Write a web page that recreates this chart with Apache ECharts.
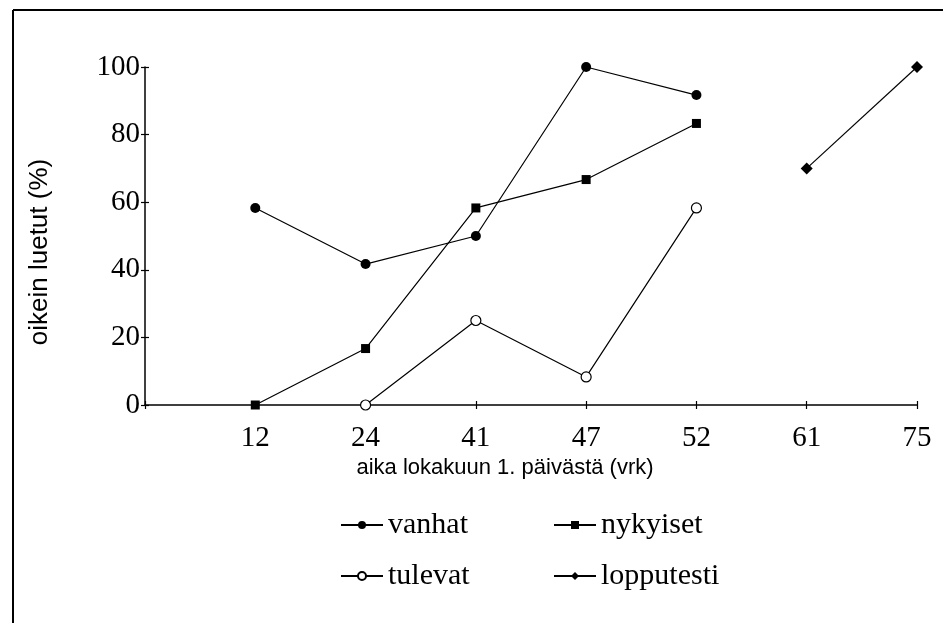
<!DOCTYPE html>
<html><head><meta charset="utf-8">
<script src="https://cdn.jsdelivr.net/npm/echarts@6/dist/echarts.min.js"></script>
<style>html,body{margin:0;padding:0;background:#fff}#c{width:943px;height:623px}</style>
</head><body><div id="c"></div>
<script>
var categories = ['', '12', '24', '41', '47', '52', '61', '75'];
var vanhat     = [null, 58.3, 41.7, 50.0, 100.0, 91.7, null, null];
var nykyiset   = [null, 0.0, 16.7, 58.3, 66.7, 83.3, null, null];
var tulevat    = [null, null, 0.0, 25.0, 8.3, 58.3, null, null];
var lopputesti = [null, null, null, null, null, null, 70.0, 100.0];
var yTicks = [0, 20, 40, 60, 80, 100];
var xName = 'aika lokakuun 1. päivästä (vrk)';
var yName = 'oikein luetut (%)';

var serif = '"Liberation Serif", "Times New Roman", serif';
var sans = '"Liberation Sans", Arial, sans-serif';
var chart = echarts.init(document.getElementById('c'), null, {renderer: 'canvas'});
function ser(name, data, symbol, size, fill) {
  return {
    name: name, type: 'line', data: data, symbol: symbol, symbolSize: size,
    showSymbol: true, connectNulls: false,
    lineStyle: {color: '#000', width: 1.2},
    itemStyle: {color: fill, borderColor: '#000', borderWidth: fill === '#fff' ? 1.2 : 0},
    emphasis: {disabled: true}, z: 3
  };
}
var legendStyle = {
  orient: 'vertical', itemWidth: 42, itemHeight: 10, itemGap: 21,
  textStyle: {fontFamily: serif, fontSize: 30, color: '#000'}, selectedMode: false
};
chart.setOption({
  animation: false,
  grid: {left: 145, right: 26, top: 67, bottom: 218},
  xAxis: [{
    type: 'category', data: categories, boundaryGap: false,
    axisLine: {lineStyle: {color: '#000', width: 1.5}},
    axisTick: {show: true, length: 4, lineStyle: {color: '#000', width: 1.2}},
    axisLabel: {fontFamily: serif, fontSize: 29, color: '#000', margin: 19},
    splitLine: {show: false}
  }, {
    type: 'category', data: categories, boundaryGap: false, position: 'bottom',
    axisLine: {show: false},
    axisTick: {show: true, inside: true, length: 4, lineStyle: {color: '#000', width: 1.2}},
    axisLabel: {show: false}, splitLine: {show: false}
  }],
  yAxis: [{
    type: 'value', min: yTicks[0], max: yTicks[yTicks.length - 1], interval: 20,
    axisLine: {show: true, lineStyle: {color: '#000', width: 1.5}},
    axisTick: {show: true, length: 4, lineStyle: {color: '#000', width: 1.2}},
    axisLabel: {fontFamily: serif, fontSize: 29, color: '#000', margin: 5},
    splitLine: {show: false}
  }, {
    type: 'value', min: yTicks[0], max: yTicks[yTicks.length - 1], interval: 20, position: 'left',
    axisLine: {show: false},
    axisTick: {show: true, inside: true, length: 4, lineStyle: {color: '#000', width: 1.2}},
    axisLabel: {show: false}, splitLine: {show: false}
  }],
  legend: [
    Object.assign({}, legendStyle, {left: 335, top: 505, data: ['vanhat', 'tulevat']}),
    Object.assign({}, legendStyle, {left: 548, top: 505, data: ['nykyiset', 'lopputesti']})
  ],
  series: [
    ser('vanhat', vanhat, 'circle', 10, '#000'),
    ser('nykyiset', nykyiset, 'rect', 9, '#000'),
    ser('tulevat', tulevat, 'circle', 10, '#fff'),
    ser('lopputesti', lopputesti, 'diamond', 12, '#000')
  ],
  graphic: [
    {type: 'line', shape: {x1: 13, y1: 10, x2: 943, y2: 10}, style: {stroke: '#000', lineWidth: 2}},
    {type: 'line', shape: {x1: 13, y1: 10, x2: 13, y2: 623}, style: {stroke: '#000', lineWidth: 2}},
    {type: 'text', x: 505, y: 468,
     style: {text: xName, font: '22px ' + sans, fill: '#000', textAlign: 'center', textVerticalAlign: 'middle'}},
    {type: 'text', x: 40, y: 252, rotation: Math.PI / 2,
     style: {text: yName, font: '26px ' + sans, fill: '#000', textAlign: 'center', textVerticalAlign: 'middle'}}
  ]
});
</script></body></html>
